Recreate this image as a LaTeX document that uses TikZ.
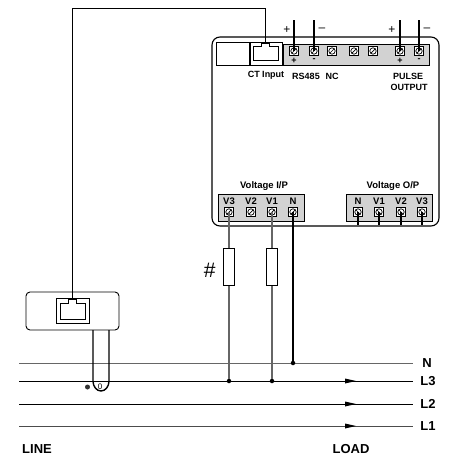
\documentclass[tikz,border=0pt]{standalone}
\usepackage{fontspec}
\setmainfont{Liberation Sans}
\usetikzlibrary{positioning}
\tikzset{
	screwa/.style={draw=black,fill=white,line width=0.8pt,minimum size=9.5pt,inner sep=0pt,
		path picture={\draw[line width=0.7pt] (path picture bounding box.center) circle (3.2pt);
			\draw[line width=0.7pt] ([shift={(-2.3pt,-2.3pt)}]path picture bounding box.center) -- ([shift={(2.3pt,2.3pt)}]path picture bounding box.center);}},
	screwb/.style={draw=black,fill=white,line width=0.8pt,minimum size=9.5pt,inner sep=0pt,
		path picture={\draw[line width=0.7pt] (path picture bounding box.center) circle (3.2pt);
			\draw[line width=0.7pt] ([shift={(-2.3pt,2.3pt)}]path picture bounding box.center) -- ([shift={(2.3pt,-2.3pt)}]path picture bounding box.center);}},
	lbl/.style={font=\fontsize{9}{10}\selectfont\bfseries,inner sep=0pt},
	vlbl/.style={font=\fontsize{9.5}{10}\selectfont\bfseries,inner sep=0pt},
	biglbl/.style={font=\fontsize{13}{14}\selectfont\bfseries,inner sep=0pt},
	sign/.style={font=\fontsize{12}{12}\selectfont,inner sep=0pt},
	fuse/.style={draw=black,fill=white,line width=0.9pt,minimum width=11.5pt,minimum height=36.5pt,inner sep=0pt},
	strip/.style={draw=black,fill=gray!35,line width=0.8pt},
	gwire/.style={draw=black!60,line width=1.2pt},
	kwire/.style={draw=black,line width=1.1pt},
	phase/.style={line width=0.9pt},
	junction/.style={circle,fill=black,inner sep=0pt,minimum size=4.5pt}
}
\begin{document}
\begin{tikzpicture}[x=1pt,y=-1pt]
	\useasboundingbox (0,0) rectangle (448,461);
	% Meter body
	\draw[line width=1.1pt,rounded corners=8pt] (212,226) rectangle (439,37);
	\filldraw[strip] (283,44) rectangle (429,65);
	\draw[line width=0.9pt] (216,42) rectangle (282,65);
	\draw[line width=1.1pt] (250,42) -- (250,65);
	\draw[line width=0.7pt] (253,60) -- (253,46) -- (261,46) -- (261,43) -- (269,43) -- (269,46) -- (278,46) -- (278,60) -- cycle;
	% Top terminals
	\node[screwa] (t1) at (294,51) {};
	\node[screwa] (t2) at (314,51) {};
	\node[screwa] (t3) at (332,51) {};
	\node[screwa] (t4) at (354,51) {};
	\node[screwa] (t5) at (373,51) {};
	\node[screwa] (t6) at (400,51) {};
	\node[screwa] (t7) at (419,51) {};
	\coordinate [] (w1) at (294,20);
	\coordinate [] (w2) at (314,20);
	\coordinate [] (w6) at (400,20);
	\coordinate [] (w7) at (419,20);
	\draw[kwire] (w1) -- (t1.center);
	\draw[kwire] (w2) -- (t2.center);
	\draw[kwire] (w6) -- (t6.center);
	\draw[kwire] (w7) -- (t7.center);
	\node[sign] (p1) at (287,30) {+};
	\node[sign] (m1) at (322,30) {--};
	\node[sign] (p2) at (392,30) {+};
	\node[sign] (m2) at (427,30) {--};
	\node[lbl] (sp1) at (294,61) {+};
	\node[lbl] (sm1) at (314,60) {-};
	\node[lbl] (sp2) at (400,61) {+};
	\node[lbl] (sm2) at (419,60) {-};
	\node[lbl] (ctinput) at (266,75) {CT Input};
	\node[lbl] (rs) at (306,76) {RS485};
	\node[lbl] (nc) at (332,76) {NC};
	\node[lbl] (pulse) at (408,76) {PULSE};
	\node[lbl] (output) at (409,87) {OUTPUT};
	% Voltage input
	\filldraw[strip] (218,194) rectangle (304,221);
	\node[vlbl] (vin) at (264,186) {Voltage I/P};
	\node[vlbl] (vi3) at (229,201) {V3};
	\node[vlbl] (vi2) at (251,201) {V2};
	\node[vlbl] (vi1) at (272,201) {V1};
	\node[vlbl] (vin0) at (293,201) {N};
	\node[screwa] (i3) at (229,212) {};
	\node[screwa] (i2) at (251,212) {};
	\node[screwa] (i1) at (272,212) {};
	\node[screwa] (i0) at (293,212) {};
	% Voltage output
	\filldraw[strip] (346,194) rectangle (432,221);
	\node[vlbl] (vout) at (393,186) {Voltage O/P};
	\node[vlbl] (vo0) at (358,201) {N};
	\node[vlbl] (vo1) at (379,201) {V1};
	\node[vlbl] (vo2) at (401,201) {V2};
	\node[vlbl] (vo3) at (422,201) {V3};
	\node[screwb] (o0) at (358,212) {};
	\node[screwb] (o1) at (379,212) {};
	\node[screwb] (o2) at (401,212) {};
	\node[screwb] (o3) at (422,212) {};
	\coordinate [] (s0) at (358,225);
	\coordinate [] (s1) at (379,225);
	\coordinate [] (s2) at (401,225);
	\coordinate [] (s3) at (422,225);
	\draw[kwire] (o0.center) -- (s0);
	\draw[kwire] (o1.center) -- (s1);
	\draw[kwire] (o2.center) -- (s2);
	\draw[kwire] (o3.center) -- (s3);
	% Line conductors
	\coordinate [] (nl) at (19,363);
	\coordinate [] (nr) at (413,363);
	\coordinate [] (l3l) at (19,381);
	\coordinate [] (l3r) at (413,381);
	\coordinate [] (l2l) at (19,404);
	\coordinate [] (l2r) at (413,404);
	\coordinate [] (l1l) at (19,426);
	\coordinate [] (l1r) at (413,426);
	\draw[draw=black!60,line width=1pt] (nl) -- (nr);
	\draw[phase] (l3l) -- (l3r);
	\draw[phase] (l2l) -- (l2r);
	\draw[draw=black!70,line width=1pt] (l1l) -- (l1r);
	\fill (345,378.5) -- (356,381) -- (345,383.5) -- cycle;
	\fill (345,401.5) -- (356,404) -- (345,406.5) -- cycle;
	\fill (345,423.5) -- (356,426) -- (345,428.5) -- cycle;
	\node[junction] (j3) at (229,381) {};
	\node[junction] (j1) at (272,381) {};
	\node[junction] (j0) at (293,363) {};
	\node[biglbl] (ln) at (427,363) {N};
	\node[biglbl] (l3) at (428,381) {L3};
	\node[biglbl] (l2) at (428,404) {L2};
	\node[biglbl] (l1) at (428,426) {L1};
	\node[biglbl] (line) at (37,449) {LINE};
	\node[biglbl] (load) at (351,449) {LOAD};
	% Voltage wires and fuses
	\draw[gwire] (i3.center) -- (j3);
	\draw[gwire] (i1.center) -- (j1);
	\draw[draw=black,line width=1.4pt] (i0.center) -- (j0);
	\node[fuse] (f3) at (229,267) {};
	\node[fuse] (f1) at (272,267) {};
	\node[font=\fontsize{21}{21}\selectfont,inner sep=0pt,left=7pt of f3,yshift=-3pt] (hash) {\#};
	% Current transformer
	\draw[line width=0.9pt,rounded corners=4pt] (26,292) rectangle (119,330);
	\draw[line width=1pt] (56,298) rectangle (89,323);
	\draw[line width=0.7pt] (60,319) -- (60,303) -- (68,303) -- (68,299) -- (76,299) -- (76,303) -- (85,303) -- (85,319) -- cycle;
	\coordinate [] (cttop) at (72,298);
	\coordinate [] (ctin) at (265,43);
	\draw[line width=1pt] (cttop) -- (72,8) -- (265,8) -- (ctin);
	\draw[line width=1.4pt] (93,330) -- (93,381) arc [start angle=180,end angle=0,x radius=8pt,y radius=-10pt] -- (109,330);
	\node[font=\fontsize{8}{8}\selectfont,inner sep=0pt] (zero) at (100,387) {0};
	\node[circle,fill=black!80,inner sep=0pt,minimum size=5pt] (dot) at (87.5,387) {};
\end{tikzpicture}
\end{document}
